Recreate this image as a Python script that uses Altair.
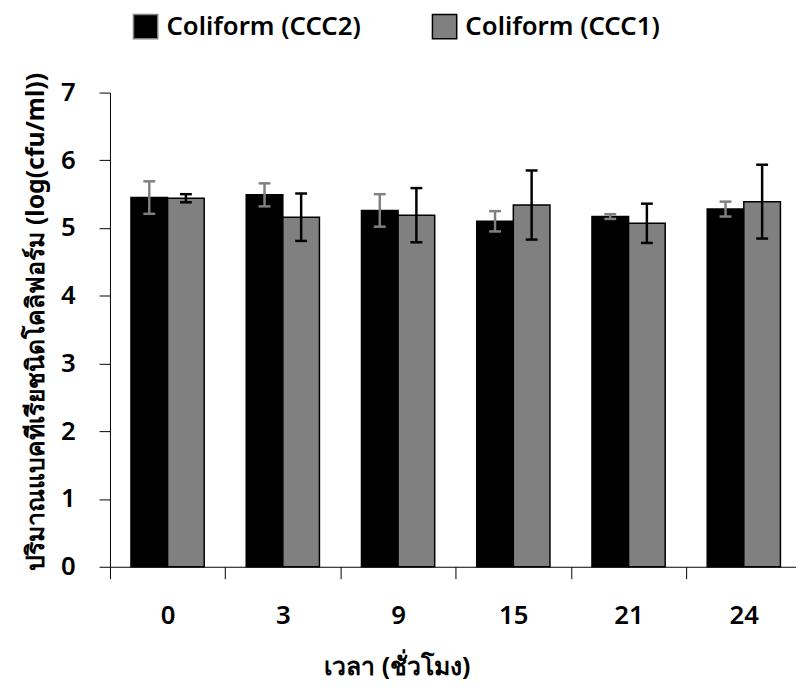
import altair as alt
import pandas as pd

times = ["0", "3", "9", "15", "21", "24"]
series = ["Coliform (CCC2)", "Coliform (CCC1)"]
ccc2_mean = [5.45, 5.49, 5.26, 5.10, 5.17, 5.28]
ccc2_err = [0.24, 0.17, 0.24, 0.15, 0.035, 0.11]
ccc1_mean = [5.44, 5.16, 5.19, 5.34, 5.07, 5.39]
ccc1_err = [0.06, 0.35, 0.40, 0.51, 0.29, 0.545]

rows = []
for i, t in enumerate(times):
    for s, m, e in [(series[0], ccc2_mean[i], ccc2_err[i]), (series[1], ccc1_mean[i], ccc1_err[i])]:
        rows.append({"time": t, "series": s, "mean": m, "lo": m - e, "hi": m + e})
df = pd.DataFrame(rows)

FONT = "Noto Sans"
band_total = 698.5

x_enc = alt.X("time:N", sort=times,
              scale=alt.Scale(range=[0, band_total], paddingInner=0, paddingOuter=0),
              axis=alt.Axis(title="เวลา (ชั่วโมง)", labelAngle=0, tickBand="extent",
                            tickSize=12, tickColor="black", domainColor="black",
                            labelFontSize=26, labelFontWeight=600, labelColor="black",
                            labelPadding=24, titleFontSize=25, titleFontWeight="bold",
                            titleColor="black", titlePadding=27, titleAnchor="start",
                            titleX=216, grid=False))
xoff = alt.XOffset("series:N", sort=series,
                   scale=alt.Scale(paddingInner=0, paddingOuter=0.574))

base = alt.Chart(df)

bars = base.mark_bar(stroke="black", strokeWidth=1.5).encode(
    x=x_enc,
    xOffset=xoff,
    y=alt.Y("mean:Q", scale=alt.Scale(domain=[0, 7]),
            axis=alt.Axis(title="ปริมาณแบคทีเรียชนิดโคลิฟอร์ม (log(cfu/ml))",
                          values=[0, 1, 2, 3, 4, 5, 6, 7], format="d", tickSize=11,
                          tickColor="black", domainColor="black", grid=False,
                          labelFontSize=26, labelFontWeight=600, labelColor="black",
                          labelPadding=24, titleFontSize=25, titleFontWeight="bold",
                          titleColor="black", titlePadding=12, titleY=231)),
    fill=alt.Fill("series:N", sort=series,
                  scale=alt.Scale(domain=series, range=["#000000", "#808080"]),
                  legend=alt.Legend(title=None, orient="none", direction="horizontal",
                                    legendX=23, legendY=-80, symbolType="square",
                                    symbolSize=600, symbolStrokeColor="black",
                                    symbolStrokeWidth=1.5, labelFontSize=26,
                                    labelFontWeight=600, labelColor="black",
                                    labelLimit=400, columnPadding=68, labelOffset=8)),
)

err_color = alt.Color("series:N", scale=alt.Scale(domain=series, range=["#808080", "#000000"]),
                      legend=None)

rules = base.mark_rule(strokeWidth=2.5).encode(
    x=alt.X("time:N", sort=times), xOffset=xoff,
    y="lo:Q", y2="hi:Q", color=err_color)
cap_hi = base.mark_tick(size=12, thickness=2.5, opacity=1).encode(
    x=alt.X("time:N", sort=times), xOffset=xoff, y="hi:Q", color=err_color)
cap_lo = base.mark_tick(size=12, thickness=2.5, opacity=1).encode(
    x=alt.X("time:N", sort=times), xOffset=xoff, y="lo:Q", color=err_color)

chart = alt.layer(bars, rules, cap_hi, cap_lo).properties(
    width=693, height=479,
    autosize=alt.AutoSizeParams(type="none"),
    padding={"left": 103, "top": 82, "right": 0, "bottom": 115},
).configure(font=FONT).configure_view(stroke=None)

chart.save("out.html", embed_options={"renderer": "svg", "actions": False})
